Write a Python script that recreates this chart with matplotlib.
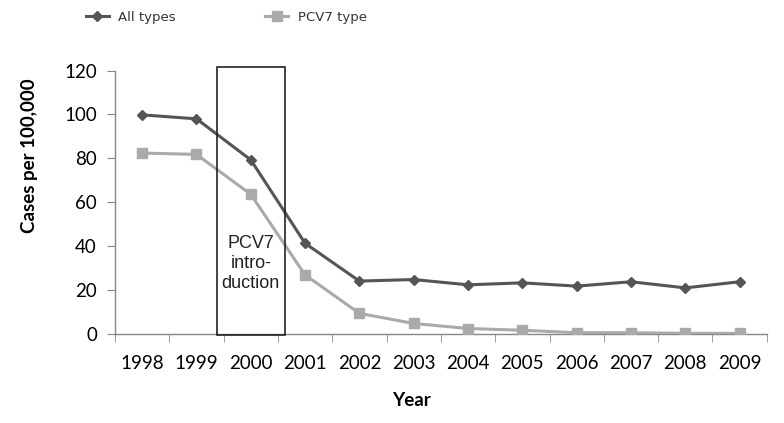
import matplotlib
matplotlib.use("Agg")
import matplotlib.pyplot as plt
from matplotlib.patches import Rectangle
import numpy as np

years = ["1998", "1999", "2000", "2001", "2002", "2003", "2004", "2005", "2006", "2007", "2008", "2009"]
all_types = [99.8, 98.0, 79.3, 41.3, 24.1, 24.8, 22.4, 23.3, 21.8, 23.8, 21.0, 23.8]
pcv7_type = [82.4, 81.8, 63.6, 26.9, 9.4, 4.8, 2.5, 1.7, 0.6, 0.6, 0.3, 0.3]
yticks = [0, 20, 40, 60, 80, 100, 120]

TICKFONT = "Lato"

fig = plt.figure(figsize=(7.84, 4.23), dpi=100)
ax = fig.add_axes([0.1467, 0.2104, 0.8313, 0.6229])

x = np.arange(len(years))
ax.plot(x, all_types, color="#555555", lw=2.2, marker="D", ms=5.5, label="All types", zorder=3)
ax.plot(x, pcv7_type, color="#aaaaaa", lw=2.2, marker="s", ms=7, label="PCV7 type", zorder=3)

ax.set_xlim(-0.5, len(years) - 0.5)
ax.set_ylim(0, 120)
ax.set_yticks(yticks)
ax.set_yticklabels([str(v) for v in yticks], fontsize=13.5, family=TICKFONT)
ax.set_xticks(x)
ax.set_xticklabels(years, fontsize=13.5, family=TICKFONT)
ax.set_xticks(np.arange(-0.5, len(years), 1.0), minor=True)
ax.tick_params(axis="x", which="major", length=0, pad=15)
ax.tick_params(axis="x", which="minor", length=6, color="#888888", direction="out")
ax.tick_params(axis="y", length=6, color="#888888", pad=7)

for s in ["top", "right"]:
    ax.spines[s].set_visible(False)
for s in ["left", "bottom"]:
    ax.spines[s].set_color("#888888")
    ax.spines[s].set_linewidth(1.0)

fig.text(30 / 784, 1 - 156 / 423, "Cases per 100,000", rotation=90, ha="center", va="center",
         fontsize=13.5, fontweight="bold", family=TICKFONT)
fig.text(411 / 784, 1 - 400 / 423, "Year", ha="center", va="center",
         fontsize=13.5, fontweight="bold", family=TICKFONT)

rect = Rectangle((1.37, -0.5), 1.26, 122.3, fill=False, edgecolor="#222222", lw=1.2, clip_on=False, zorder=4)
ax.add_patch(rect)
ax.text(2, 32, "PCV7\nintro-\nduction", ha="center", va="center", fontsize=13,
        family="Liberation Sans", linespacing=1.25, color="#222222", zorder=5)

leg = fig.legend(loc="upper left", bbox_to_anchor=(0.094, 1.003), ncol=2, frameon=False,
                 columnspacing=6.8, handlelength=1.75, handletextpad=0.7,
                 prop={"family": "DejaVu Sans", "size": 9.5})
for t in leg.get_texts():
    t.set_color("#333333")

fig.savefig("out.png", dpi=100)
